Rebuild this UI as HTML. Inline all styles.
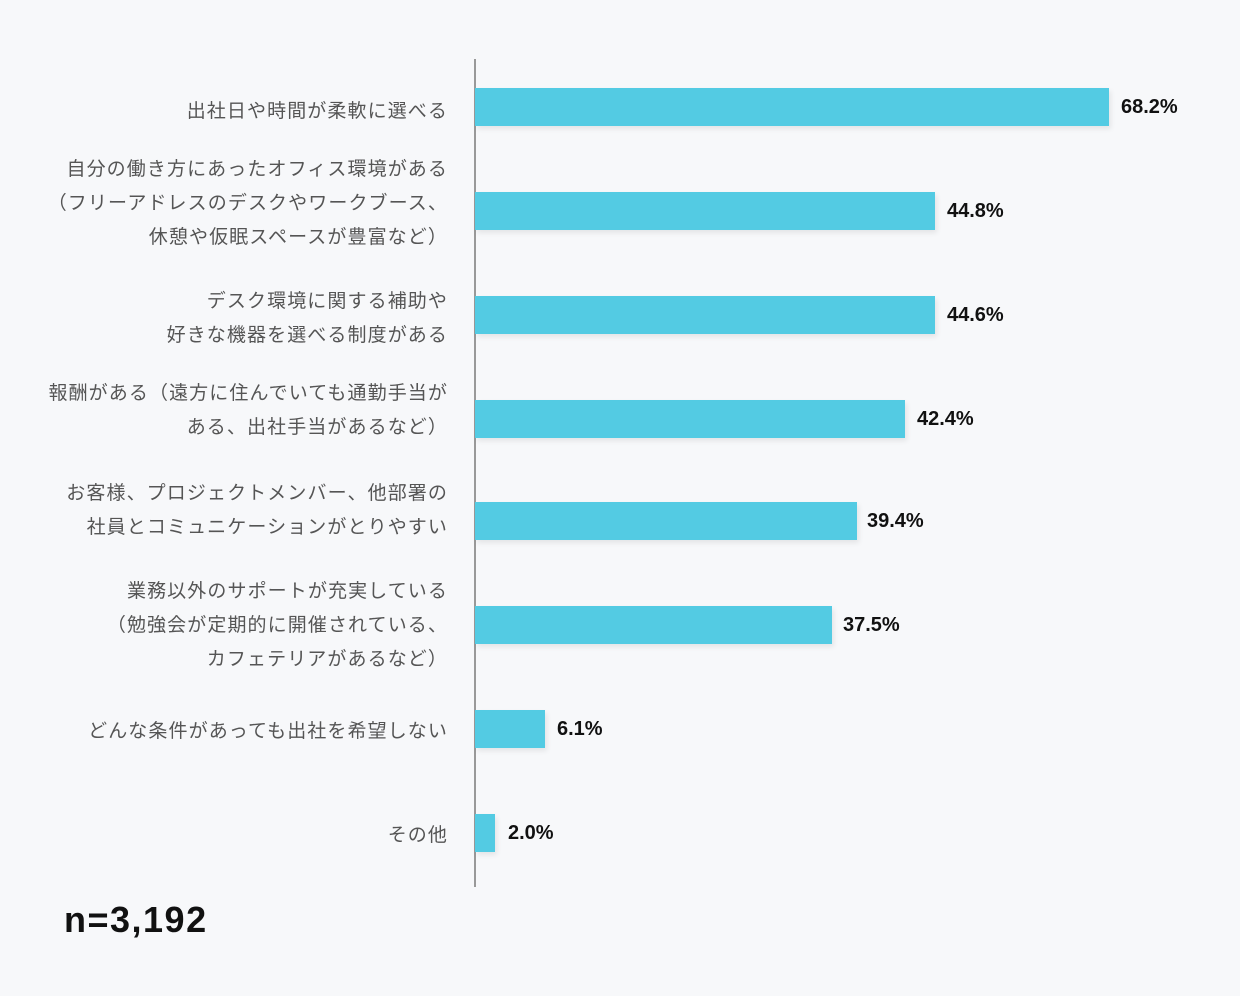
<!DOCTYPE html>
<html><head><meta charset="utf-8"><style>
body{margin:0;width:1240px;height:996px;background:#f7f8fa;position:relative;overflow:hidden;font-family:"Liberation Sans","Noto Sans CJK JP",sans-serif}
.l{position:absolute;right:792px;font-size:19px;color:#555;white-space:nowrap;line-height:24px;letter-spacing:1.1px}
.b{position:absolute;left:475px;height:38px;background:#53cbe3;box-shadow:2px 3px 5px rgba(0,0,0,0.08)}
.v{position:absolute;font-size:20px;font-weight:bold;color:#111;line-height:24px}
</style></head><body>
<div style="position:absolute;left:474px;top:59px;width:2px;height:828px;background:#999"></div>
<div class="l" style="top:100px">出社日や時間が柔軟に選べる</div>
<div class="l" style="top:158px">自分の働き方にあったオフィス環境がある</div>
<div class="l" style="top:192px">（フリーアドレスのデスクやワークブース、</div>
<div class="l" style="top:226px">休憩や仮眠スペースが豊富など）</div>
<div class="l" style="top:290px">デスク環境に関する補助や</div>
<div class="l" style="top:324px">好きな機器を選べる制度がある</div>
<div class="l" style="top:382px">報酬がある（遠方に住んでいても通勤手当が</div>
<div class="l" style="top:416px">ある、出社手当があるなど）</div>
<div class="l" style="top:482px">お客様、プロジェクトメンバー、他部署の</div>
<div class="l" style="top:516px">社員とコミュニケーションがとりやすい</div>
<div class="l" style="top:580px">業務以外のサポートが充実している</div>
<div class="l" style="top:614px">（勉強会が定期的に開催されている、</div>
<div class="l" style="top:648px">カフェテリアがあるなど）</div>
<div class="l" style="top:720px">どんな条件があっても出社を希望しない</div>
<div class="l" style="top:824px">その他</div>
<div class="b" style="top:88px;width:634px"></div><div class="v" style="left:1121px;top:95px">68.2%</div>
<div class="b" style="top:192px;width:460px"></div><div class="v" style="left:947px;top:199px">44.8%</div>
<div class="b" style="top:296px;width:460px"></div><div class="v" style="left:947px;top:303px">44.6%</div>
<div class="b" style="top:400px;width:430px"></div><div class="v" style="left:917px;top:407px">42.4%</div>
<div class="b" style="top:502px;width:382px"></div><div class="v" style="left:867px;top:509px">39.4%</div>
<div class="b" style="top:606px;width:357px"></div><div class="v" style="left:843px;top:613px">37.5%</div>
<div class="b" style="top:710px;width:70px"></div><div class="v" style="left:557px;top:717px">6.1%</div>
<div class="b" style="top:814px;width:20px"></div><div class="v" style="left:508px;top:821px">2.0%</div>
<div style="position:absolute;left:64px;top:900px;font-size:36px;font-weight:bold;color:#111;line-height:40px;letter-spacing:1.5px">n=3,192</div>
</body></html>
